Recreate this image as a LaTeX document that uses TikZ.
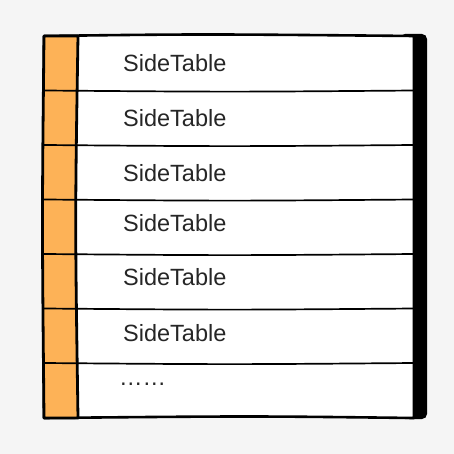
\documentclass[tikz,border=0pt]{standalone}
\usepackage{fontspec}
\setmainfont{Liberation Sans}
\newcommand{\tb}{\fontsize{23.5}{24}\selectfont}

\begin{document}
\begin{tikzpicture}[x=1pt,y=-1pt]
    \fill[black!4] (0,0) rectangle (454,454);
    \fill[black, rounded corners=5] (400,34) rectangle (427,419);
    \filldraw[fill=white, line width=2.6, line join=round] (44,36) .. controls (200,34) .. (414,36) -- (414,418) .. controls (250,416) .. (44,418) -- cycle;
    \filldraw[fill={rgb,255:red,253;green,178;blue,87}, line width=2.8, line join=round] (44,36) -- (78,36) .. controls (75,220) .. (78,418) -- (44,418) .. controls (42,220) .. (44,36) -- cycle;
    \foreach \y in {90.5,145,199.5,254,308.5,363}
        \draw[line width=1.7] (44,\y) .. controls (230,\y+1.5) .. (414,\y);
    \foreach \y/\n in {71.5/1,126.5/2,181.5/3,231.5/4,285.5/5,341/6}
        \node[anchor=base west, inner sep=0, text=black!85] (row\n) at (123,\y) {\tb SideTable};
    \node[anchor=base west, inner sep=0, text=black!85] (more) at (119,385) {\tb ……};
\end{tikzpicture}
\end{document}
